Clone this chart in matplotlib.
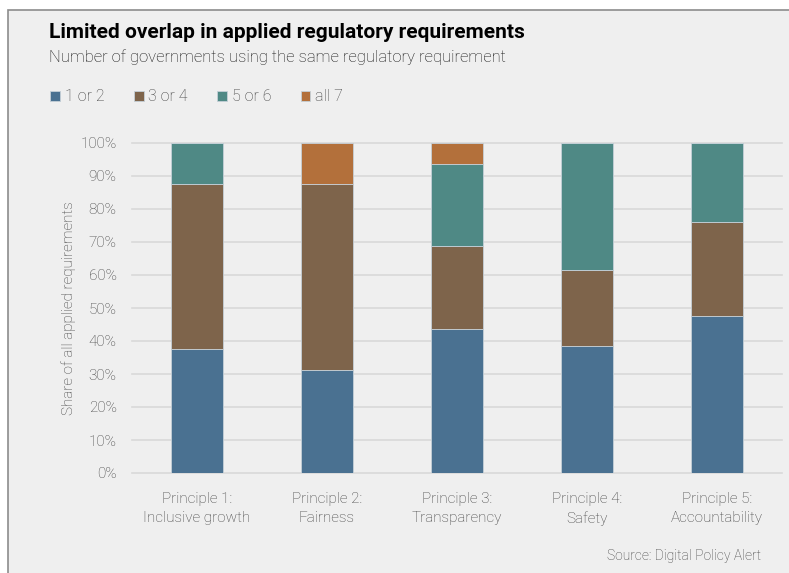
#!/usr/bin/env python

import matplotlib
matplotlib.use("Agg")
import matplotlib.pyplot as plt
import numpy as np
from matplotlib.patches import Rectangle
from matplotlib.ticker import PercentFormatter


# Data (share of applied requirements, %)
principles = ["Principle 1:\nInclusive growth", "Principle 2:\nFairness",
              "Principle 3:\nTransparency", "Principle 4:\nSafety",
              "Principle 5:\nAccountability"]
groups = ["1 or 2", "3 or 4", "5 or 6", "all 7"]
one_or_two = [37.5, 31.25, 43.75, 38.5, 47.5]
three_or_four = [50.0, 56.25, 25.0, 23.1, 28.6]
five_or_six = [12.5, 0.0, 25.0, 38.4, 23.9]
all_seven = [0.0, 12.5, 6.25, 0.0, 0.0]
colors = ["#4a7191", "#7e644b", "#4f8985", "#b3703b"]

plt.rcParams["font.family"] = ["Roboto", "DejaVu Sans"]
TXT = "#3f3f3f"
LIGHT = "light"

fig = plt.figure(figsize=(7.89, 5.73), dpi=100, facecolor="white")
# grey panel with border
fig.patches.append(Rectangle((8 / 789, -0.01), 1.0, 1 - 10 / 573 + 0.01,
                             transform=fig.transFigure, facecolor="#efefef",
                             edgecolor="#8c8c8c", linewidth=1.2, zorder=-10))

ax = fig.add_axes([132 / 789, 100 / 573, 650 / 789, 330 / 573])
ax.set_facecolor("none")
ax.set_zorder(5)

series = [one_or_two, three_or_four, five_or_six, all_seven]
x = np.arange(len(principles))
bottom = np.zeros(len(principles))
handles = []
for name, vals, col in zip(groups, series, colors):
    vals = np.array(vals)
    b = ax.bar(x, vals, 0.4, bottom=bottom, color=col, edgecolor="#c5d0d8",
               linewidth=0.6, label=name, zorder=3)
    handles.append(b)
    bottom += vals

ax.set_xlim(-0.5, 4.5)
ax.set_ylim(0, 100)
ax.set_yticks(np.arange(0, 101, 10))
ax.yaxis.set_major_formatter(PercentFormatter(decimals=0))
ax.grid(axis="y", color="#d9d9d9", linewidth=1.2, zorder=0)
for ln in ax.get_ygridlines():
    ln.set_clip_on(False)
ax.set_xticks(x)
ax.set_xticklabels(principles, fontsize=11, color=TXT, linespacing=1.45,
                   fontweight=LIGHT)
for t in ax.get_yticklabels():
    t.set_fontweight(LIGHT)
ax.tick_params(axis="both", length=0, labelsize=11, labelcolor=TXT)
ax.tick_params(axis="x", pad=14)
ax.tick_params(axis="y", pad=11)
for s in ax.spines.values():
    s.set_visible(False)
ax.set_ylabel("Share of all applied requirements", fontsize=11, color=TXT,
              labelpad=3, fontweight=LIGHT)

fig.text(49 / 789, 1 - 38 / 573, "Limited overlap in applied regulatory requirements",
         fontsize=15, fontweight="bold", color="black")
fig.text(49 / 789, 1 - 62 / 573, "Number of governments using the same regulatory requirement",
         fontsize=12, color="#111111", fontweight=LIGHT)

leg = fig.legend(handles=handles, labels=groups, loc="center left",
                 bbox_to_anchor=(36 / 789, 1 - 97 / 573), ncol=4, frameon=False,
                 prop={"size": 11.5, "weight": LIGHT}, handlelength=0.6,
                 handleheight=0.6, handletextpad=0.3, columnspacing=1.85)
for t in leg.get_texts():
    t.set_color(TXT)

fig.text(761 / 789, 1 - 560 / 573, "Source: Digital Policy Alert", ha="right",
         va="baseline", fontsize=10, color=TXT, fontweight=LIGHT)

fig.savefig("out.png", dpi=100, facecolor="white")
